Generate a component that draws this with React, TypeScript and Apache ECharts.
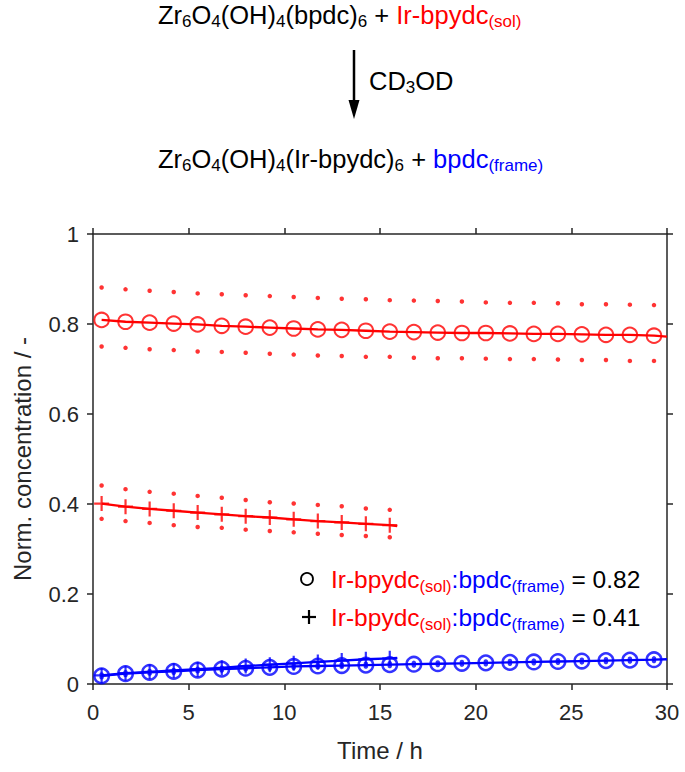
import React, { useEffect, useRef } from "react";
import * as echarts from "echarts";

const FONT = "'Liberation Sans', Arial, Helvetica, sans-serif";
const RED = "#ff0000";
const BLUE = "#0000ff";
const AX = "#262626";

// Sampling times (h)
const times = [0.45, 1.7, 2.96, 4.22, 5.47, 6.73, 7.98, 9.24, 10.49, 11.75, 13.0, 14.26, 15.51, 16.77, 18.02, 19.28, 20.53, 21.79, 23.04, 24.3, 25.55, 26.81, 28.06, 29.32];
const crossTimes = [0.45, 1.7, 2.96, 4.22, 5.47, 6.73, 7.98, 9.24, 10.49, 11.75, 13.0, 14.26, 15.51];

// Ratio 0.82 (circles)
const redCircle = [0.809, 0.805, 0.803, 0.801, 0.799, 0.796, 0.794, 0.792, 0.79, 0.788, 0.787, 0.785, 0.783, 0.782, 0.781, 0.78, 0.78, 0.779, 0.778, 0.778, 0.777, 0.776, 0.776, 0.774];
const redCircleUpper = [0.881, 0.877, 0.874, 0.871, 0.868, 0.866, 0.864, 0.862, 0.86, 0.858, 0.856, 0.855, 0.853, 0.852, 0.851, 0.85, 0.848, 0.847, 0.847, 0.846, 0.844, 0.844, 0.843, 0.842];
const redCircleLower = [0.75, 0.747, 0.744, 0.742, 0.739, 0.738, 0.736, 0.734, 0.732, 0.73, 0.729, 0.727, 0.727, 0.725, 0.724, 0.724, 0.723, 0.722, 0.722, 0.721, 0.72, 0.72, 0.718, 0.718];
const blueCircle = [0.018, 0.023, 0.026, 0.028, 0.031, 0.033, 0.035, 0.037, 0.039, 0.04, 0.041, 0.042, 0.043, 0.044, 0.045, 0.046, 0.047, 0.048, 0.049, 0.05, 0.051, 0.052, 0.053, 0.054];
const blueCircleUpper = [0.021, 0.026, 0.029, 0.031, 0.034, 0.036, 0.038, 0.04, 0.042, 0.043, 0.044, 0.045, 0.046, 0.047, 0.048, 0.049, 0.05, 0.051, 0.052, 0.053, 0.054, 0.055, 0.056, 0.057];
const blueCircleLower = [0.015, 0.02, 0.023, 0.025, 0.028, 0.03, 0.032, 0.034, 0.036, 0.037, 0.038, 0.039, 0.04, 0.041, 0.042, 0.043, 0.044, 0.045, 0.046, 0.047, 0.048, 0.049, 0.05, 0.051];

// Ratio 0.41 (crosses)
const redCross = [0.401, 0.394, 0.389, 0.385, 0.381, 0.377, 0.373, 0.37, 0.366, 0.362, 0.359, 0.356, 0.353];
const redCrossUpper = [0.441, 0.433, 0.427, 0.423, 0.418, 0.414, 0.409, 0.404, 0.401, 0.398, 0.395, 0.39, 0.387];
const redCrossLower = [0.367, 0.362, 0.358, 0.353, 0.349, 0.347, 0.343, 0.34, 0.337, 0.334, 0.331, 0.329, 0.326];
const blueCross = [0.019, 0.024, 0.027, 0.03, 0.033, 0.036, 0.04, 0.043, 0.046, 0.049, 0.052, 0.055, 0.057];

// Fit-line end points
const circleFitEnd = { t: 30, red: 0.772, blue: 0.055 };
const crossFitEnd = { t: 15.9, red: 0.351, blue: 0.058 };

const xTicks = { min: 0, max: 30, interval: 5 };
const yTicks = { min: 0, max: 1, interval: 0.2 };

const PLUS = "path://M5,0 L5,10 M0,5 L10,5";

function pairs(xs: number[], ys: number[]) {
  return xs.map((x, i) => [x, ys[i]]);
}

function lineSeries(data: number[][], color: string) {
  return {
    type: "line",
    data,
    showSymbol: false,
    symbol: "none",
    lineStyle: { color, width: 2.3 },
    silent: true,
    z: 2,
  };
}
function markerSeries(data: number[][], color: string, symbol: string, size: number, width: number) {
  return {
    type: "scatter",
    data,
    symbol,
    symbolSize: size,
    symbolKeepAspect: true,
    itemStyle: { color: "rgba(0,0,0,0)", borderColor: color, borderWidth: width },
    silent: true,
    z: 3,
  };
}
function dotSeries(data: number[][], color: string) {
  return {
    type: "scatter",
    data,
    symbol: "circle",
    symbolSize: 4.5,
    itemStyle: { color },
    silent: true,
    z: 3,
  };
}

const subRich = (main: number, sub: number, lh: number, slh: number) => ({
  n: { fontSize: main, fontFamily: FONT, fill: "#000", lineHeight: lh },
  s: { fontSize: sub, fontFamily: FONT, fill: "#000", lineHeight: slh, verticalAlign: "bottom" },
  r: { fontSize: main, fontFamily: FONT, fill: RED, lineHeight: lh },
  rs: { fontSize: sub, fontFamily: FONT, fill: RED, lineHeight: slh, verticalAlign: "bottom" },
  b: { fontSize: main, fontFamily: FONT, fill: BLUE, lineHeight: lh },
  bs: { fontSize: sub, fontFamily: FONT, fill: BLUE, lineHeight: slh, verticalAlign: "bottom" },
});

export default function App() {
  const ref = useRef<HTMLDivElement>(null);
  useEffect(() => {
    document.body.style.margin = "0";
    if (!ref.current) return;
    const chart = echarts.init(ref.current, undefined, { renderer: "svg" });
    const axisLine = { show: true, onZero: false, lineStyle: { color: AX, width: 1.5 } };
    const axisTick = { show: true, inside: false, length: 6, lineStyle: { color: AX, width: 1.5 } };
    const topRich = subRich(25.5, 17, 30, 14);
    const legRich = subRich(24.5, 16.5, 30, 15);

    const option: any = {
      animation: false,
      grid: { left: 93, top: 234, width: 574, height: 450 },
      xAxis: [
        {
          type: "value", ...xTicks, position: "bottom",
          axisLine, axisTick, splitLine: { show: false },
          axisLabel: { fontSize: 22, color: AX, fontFamily: FONT, margin: 17 },
          name: "Time / h", nameLocation: "middle", nameGap: 54,
          nameTextStyle: { fontSize: 24, color: AX, fontFamily: FONT },
        },
        {
          type: "value", ...xTicks, position: "top",
          axisLine, axisTick, splitLine: { show: false }, axisLabel: { show: false },
        },
      ],
      yAxis: [
        {
          type: "value", ...yTicks, position: "left",
          axisLine, axisTick, splitLine: { show: false },
          axisLabel: { fontSize: 22, color: AX, fontFamily: FONT, margin: 14 },
          name: "Norm. concentration / -", nameLocation: "middle", nameGap: 59,
          nameTextStyle: { fontSize: 24, color: AX, fontFamily: FONT },
        },
        {
          type: "value", ...yTicks, position: "right",
          axisLine, axisTick, splitLine: { show: false }, axisLabel: { show: false },
        },
      ],
      series: [
        lineSeries([...pairs(times, redCircle), [circleFitEnd.t, circleFitEnd.red]], RED),
        lineSeries([...pairs(crossTimes, redCross), [crossFitEnd.t, crossFitEnd.red]], RED),
        lineSeries([...pairs(times, blueCircle), [circleFitEnd.t, circleFitEnd.blue]], BLUE),
        lineSeries([...pairs(crossTimes, blueCross), [crossFitEnd.t, crossFitEnd.blue]], BLUE),
        markerSeries(pairs(times, redCircle), RED, "circle", 14.5, 2),
        dotSeries(pairs(times, redCircleUpper), RED),
        dotSeries(pairs(times, redCircleLower), RED),
        markerSeries(pairs(crossTimes, redCross), RED, PLUS, 15, 2.2),
        dotSeries(pairs(crossTimes, redCrossUpper), RED),
        dotSeries(pairs(crossTimes, redCrossLower), RED),
        markerSeries(pairs(times, blueCircle), BLUE, "circle", 14.5, 2.5),
        dotSeries(pairs(times, blueCircleUpper), BLUE),
        dotSeries(pairs(times, blueCircleLower), BLUE),
        markerSeries(pairs(crossTimes, blueCross), BLUE, PLUS, 15, 2.2),
      ],
      graphic: [
        {
          type: "text", x: 158, y: 15, silent: true,
          style: {
            text: "{n|Zr}{s|6}{n|O}{s|4}{n|(OH)}{s|4}{n|(bpdc)}{s|6}{n| + }{r|Ir-bpydc}{rs|(sol)}",
            rich: topRich, align: "left", verticalAlign: "middle",
          },
        },
        {
          type: "line", silent: true,
          shape: { x1: 354, y1: 50, x2: 354, y2: 104 },
          style: { stroke: "#000", lineWidth: 2.5 },
        },
        {
          type: "polygon", silent: true,
          shape: { points: [[348.5, 100], [359.5, 100], [354, 119]] },
          style: { fill: "#000" },
        },
        {
          type: "text", x: 369, y: 81, silent: true,
          style: { text: "{n|CD}{s|3}{n|OD}", rich: topRich, align: "left", verticalAlign: "middle" },
        },
        {
          type: "text", x: 158, y: 159, silent: true,
          style: {
            text: "{n|Zr}{s|6}{n|O}{s|4}{n|(OH)}{s|4}{n|(Ir-bpydc)}{s|6}{n| + }{b|bpdc}{bs|(frame)}",
            rich: topRich, align: "left", verticalAlign: "middle",
          },
        },
        // legend
        {
          type: "circle", silent: true,
          shape: { cx: 307, cy: 579, r: 6 },
          style: { fill: "none", stroke: "#000", lineWidth: 1.8 },
        },
        {
          type: "text", x: 331, y: 579, silent: true,
          style: {
            text: "{r|Ir-bpydc}{rs|(sol)}{b|:bpdc}{bs|(frame)}{n| = 0.82}",
            rich: legRich, align: "left", verticalAlign: "middle",
          },
        },
        {
          type: "line", silent: true,
          shape: { x1: 302, y1: 617, x2: 316, y2: 617 },
          style: { stroke: "#000", lineWidth: 2.2 },
        },
        {
          type: "line", silent: true,
          shape: { x1: 309, y1: 610, x2: 309, y2: 624 },
          style: { stroke: "#000", lineWidth: 2.2 },
        },
        {
          type: "text", x: 331, y: 617, silent: true,
          style: {
            text: "{r|Ir-bpydc}{rs|(sol)}{b|:bpdc}{bs|(frame)}{n| = 0.41}",
            rich: legRich, align: "left", verticalAlign: "middle",
          },
        },
      ],
    };
    chart.setOption(option);
    return () => chart.dispose();
  }, []);
  return <div ref={ref} style={{ width: 685, height: 772 }} />;
}
